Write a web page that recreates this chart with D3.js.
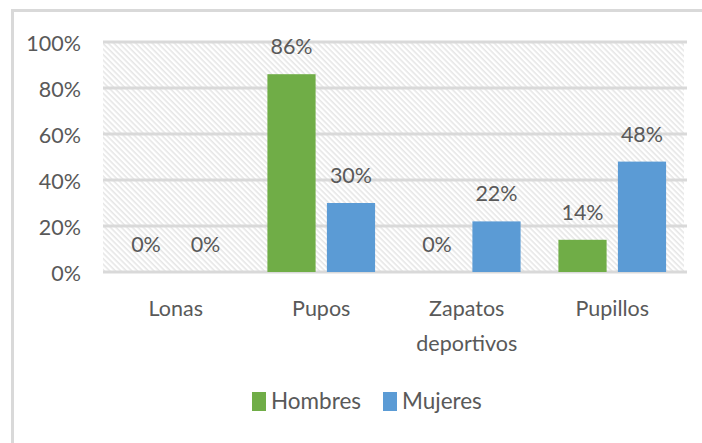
<!DOCTYPE html>
<html><head><meta charset="utf-8">
<script src="https://cdn.jsdelivr.net/npm/d3@7"></script>
<style>html,body{margin:0;padding:0;background:#fff;}svg{display:block;}</style>
</head><body>
<svg id="c" width="702" height="443"></svg>
<script>
const categories = ["Lonas", "Pupos", "Zapatos\ndeportivos", "Pupillos"];
const seriesNames = ["Hombres", "Mujeres"];
const hombres = [0, 0.86, 0, 0.14];
const mujeres = [0, 0.30, 0.22, 0.48];
const yTicks = [0, 0.2, 0.4, 0.6, 0.8, 1.0];
const colors = ["#70AD47", "#5B9BD5"];

const svg = d3.select("#c");
const FONT = "Lato, 'Open Sans', sans-serif";
const FS = 21.5;
const TXT = "#595959";
const L = 103, R = 685, T = 42, B = 272;

// outer border
svg.append("rect").attr("x", 12.5).attr("y", 10.5).attr("width", 720).attr("height", 460)
  .attr("fill", "none").attr("stroke", "#d9d9d9").attr("stroke-width", 3);

const defs = svg.append("defs");
const P = 3.9;
const pat = defs.append("pattern").attr("id", "hatch").attr("patternUnits", "userSpaceOnUse")
  .attr("width", P).attr("height", P).attr("patternTransform", "rotate(45)");
pat.append("rect").attr("width", P).attr("height", P).attr("fill", "#fff");
pat.append("line").attr("x1", 0).attr("y1", 0.8).attr("x2", P).attr("y2", 0.8)
  .attr("stroke", "#e6e6e6").attr("stroke-width", 1.6);

const x0 = d3.scaleBand().domain(categories).range([L, R]);
const x1 = d3.scaleBand().domain(seriesNames)
  .range([x0.bandwidth() * 0.13, x0.bandwidth() * 0.87]).paddingInner(0.19);
const y = d3.scaleLinear().domain([0, 1]).range([B, T]);

svg.append("rect").attr("x", L).attr("y", T).attr("width", R - 1 - L).attr("height", B - T)
  .attr("fill", "url(#hatch)");

// gridlines
svg.append("g").selectAll("line").data(yTicks).join("line")
  .attr("x1", L).attr("x2", R + 2).attr("y1", d => y(d)).attr("y2", d => y(d))
  .attr("stroke", "#d9d9d9").attr("stroke-width", 3);

// y axis labels
const yAxis = d3.axisLeft(y).tickValues(yTicks).tickFormat(d3.format(".0%")).tickSize(0).tickPadding(0);
const ya = svg.append("g").attr("transform", `translate(81,0)`).call(yAxis);
ya.select(".domain").remove();
ya.selectAll("text").attr("font-family", FONT).attr("font-size", FS).attr("fill", TXT)
  .attr("dy", null).attr("dominant-baseline", "central");

// bars
const data = categories.map((c, i) => ({ c, vals: [hombres[i], mujeres[i]] }));
const groups = svg.append("g").selectAll("g").data(data).join("g")
  .attr("transform", d => `translate(${x0(d.c)},0)`);
groups.selectAll("rect").data(d => d.vals.map((v, j) => ({ v, s: seriesNames[j], j })))
  .join("rect")
  .attr("x", d => x1(d.s)).attr("width", x1.bandwidth())
  .attr("y", d => y(d.v)).attr("height", d => B - y(d.v))
  .attr("fill", d => colors[d.j]);
groups.selectAll("text").data(d => d.vals.map((v, j) => ({ v, s: seriesNames[j], j })))
  .join("text")
  .attr("x", d => x1(d.s) + x1.bandwidth() / 2).attr("y", d => y(d.v) - 20)
  .attr("text-anchor", "middle").attr("font-family", FONT).attr("font-size", FS).attr("fill", TXT)
  .text(d => d3.format(".0%")(d.v));

// category labels
const cl = svg.append("g").selectAll("text").data(categories).join("text")
  .attr("x", d => x0(d) + x0.bandwidth() / 2).attr("y", 316)
  .attr("text-anchor", "middle").attr("font-family", FONT).attr("font-size", FS).attr("fill", TXT);
cl.selectAll("tspan").data(d => d.split("\n")).join("tspan")
  .attr("x", function () { return d3.select(this.parentNode).attr("x"); })
  .attr("dy", (d, i) => i === 0 ? 0 : 35).text(d => d);

// legend
const lg = svg.append("g");
const legX = [252, 383];
seriesNames.forEach((s, i) => {
  lg.append("rect").attr("x", legX[i]).attr("y", 392).attr("width", 14).attr("height", 19).attr("fill", colors[i]);
  lg.append("text").attr("x", legX[i] + 19).attr("y", 409).attr("font-family", FONT)
    .attr("font-size", 22.5).attr("fill", TXT).text(s);
});
</script>
</body></html>
